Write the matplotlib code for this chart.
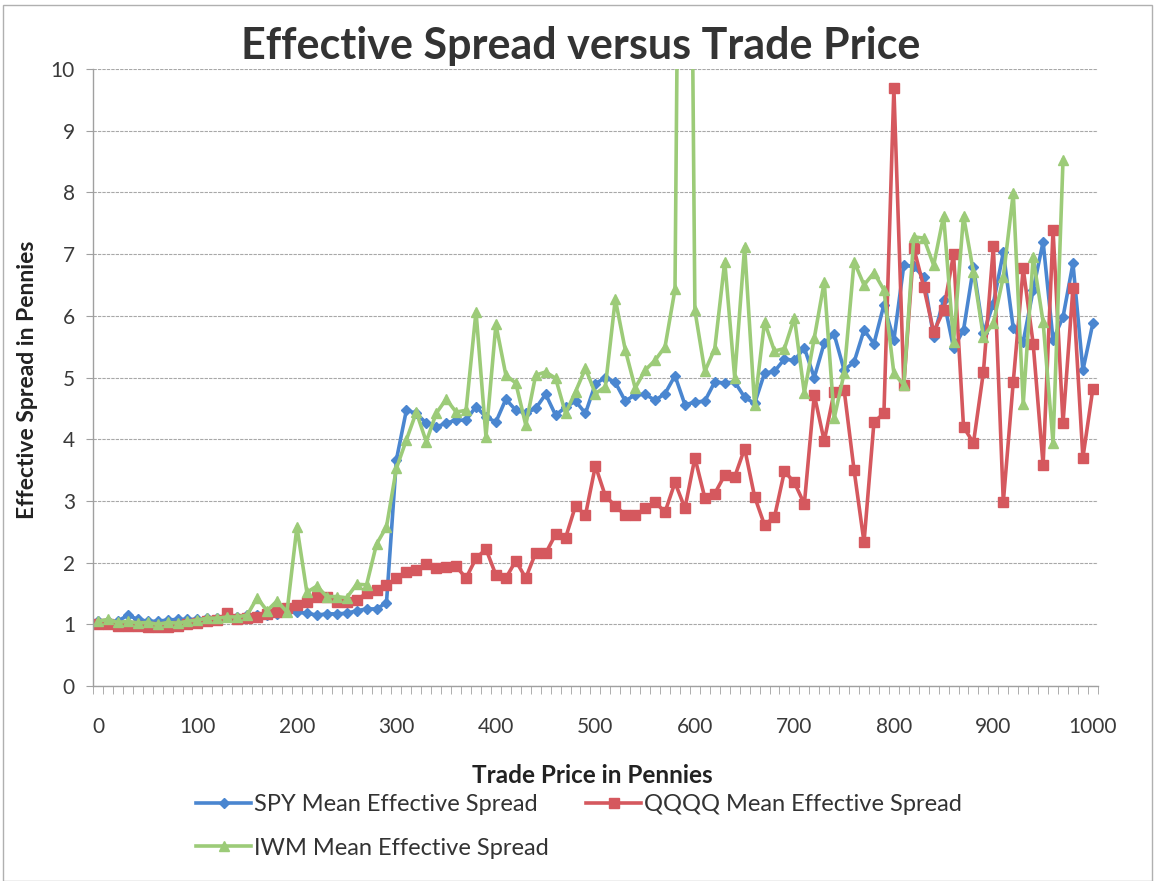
#!/usr/bin/env python3
import numpy as np
import matplotlib
matplotlib.use("Agg")
import matplotlib.pyplot as plt
from matplotlib.patches import Rectangle

# trade price in pennies, one point every 10
price = list(range(0, 1001, 10))

spy = [1.05, 1.05, 1.05, 1.15, 1.08, 1.05, 1.05, 1.07, 1.08, 1.08,
       1.08, 1.10, 1.10, 1.12, 1.12, 1.15, 1.15, 1.15, 1.17, 1.20,
       1.20, 1.18, 1.15, 1.17, 1.17, 1.18, 1.22, 1.25, 1.25, 1.35,
       3.67, 4.47, 4.42, 4.26, 4.20, 4.26, 4.31, 4.31, 4.53, 4.36,
       4.28, 4.65, 4.47, 4.42, 4.50, 4.73, 4.39, 4.52, 4.62, 4.42,
       4.90, 5.00, 4.92, 4.62, 4.72, 4.73, 4.63, 4.74, 5.03, 4.56,
       4.60, 4.62, 4.93, 4.91, 4.93, 4.68, 4.58, 5.07, 5.10, 5.30,
       5.28, 5.48, 5.00, 5.56, 5.70, 5.12, 5.25, 5.77, 5.55, 6.18,
       5.61, 6.82, 6.80, 6.63, 5.66, 6.26, 5.48, 5.77, 6.79, 5.72,
       6.20, 7.03, 5.80, 5.58, 6.42, 7.20, 5.61, 5.98, 6.85, 5.12,
       5.88]

qqqq = [1.00, 1.00, 0.98, 0.97, 0.98, 0.95, 0.95, 0.95, 0.97, 1.00,
        1.02, 1.05, 1.07, 1.18, 1.08, 1.10, 1.12, 1.17, 1.20, 1.27,
        1.32, 1.36, 1.45, 1.45, 1.36, 1.36, 1.40, 1.50, 1.56, 1.63,
        1.75, 1.85, 1.88, 1.97, 1.91, 1.93, 1.94, 1.75, 2.07, 2.22,
        1.80, 1.75, 2.03, 1.75, 2.16, 2.15, 2.46, 2.40, 2.92, 2.77,
        3.57, 3.08, 2.92, 2.77, 2.77, 2.88, 2.98, 2.82, 3.30, 2.88,
        3.70, 3.05, 3.12, 3.42, 3.39, 3.85, 3.07, 2.61, 2.74, 3.48,
        3.30, 2.95, 4.72, 3.97, 4.77, 4.80, 3.50, 2.33, 4.28, 4.42,
        9.69, 4.88, 7.10, 6.47, 5.74, 6.09, 7.00, 4.20, 3.94, 5.09,
        7.13, 2.98, 4.93, 6.77, 5.55, 3.58, 7.39, 4.26, 6.45, 3.70,
        4.82]

# no IWM values past 970
iwm = [1.05, 1.08, 1.03, 1.05, 1.02, 1.03, 1.00, 1.03, 1.02, 1.05,
       1.07, 1.10, 1.10, 1.12, 1.12, 1.15, 1.43, 1.22, 1.38, 1.20,
       2.58, 1.52, 1.62, 1.45, 1.45, 1.43, 1.65, 1.64, 2.30, 2.58,
       3.53, 3.99, 4.44, 3.96, 4.42, 4.65, 4.44, 4.47, 6.07, 4.04,
       5.86, 5.04, 4.91, 4.23, 5.04, 5.09, 4.99, 4.42, 4.77, 5.15,
       4.74, 4.85, 6.27, 5.45, 4.83, 5.12, 5.28, 5.50, 6.43, 25.0,
       6.09, 5.10, 5.47, 6.88, 5.00, 7.12, 4.55, 5.90, 5.43, 5.47,
       5.97, 4.75, 5.64, 6.55, 4.34, 5.07, 6.88, 6.50, 6.70, 6.42,
       5.07, 4.88, 7.28, 7.26, 6.82, 7.62, 5.58, 7.62, 6.71, 5.66,
       5.88, 6.63, 7.99, 4.57, 6.95, 5.90, 3.94, 8.52, np.nan, np.nan,
       np.nan]

BLUE = "#4A86D0"
RED = "#D5585E"
GREEN = "#9CCB78"

plt.rcParams['font.family'] = ['Lato', 'DejaVu Sans']

fig = plt.figure(figsize=(11.55, 8.81), dpi=100)
fig.patches.append(Rectangle((0.003, 0.0), 0.994, 0.994, transform=fig.transFigure,
                             fill=False, edgecolor="#b0b0b0", linewidth=1.0))
ax = fig.add_axes([0.0805, 0.2213, 0.870, 0.7003])

l1, = ax.plot(price, spy, color=BLUE, lw=2.6, marker="D", ms=4.8, mec=BLUE,
              label="SPY Mean Effective Spread")
l2, = ax.plot(price, qqqq, color=RED, lw=2.6, marker="s", ms=6.5, mec=RED,
              label="QQQQ Mean Effective Spread")
l3, = ax.plot(price, iwm, color=GREEN, lw=2.6, marker="^", ms=6.5, mec=GREEN,
              label="IWM Mean Effective Spread")

ax.set_xlim(-5, 1005)
ax.set_ylim(0, 10)
ax.set_yticks(range(0, 11))
ax.set_xticks(range(0, 1001, 100))
ax.set_xticks(np.arange(-5, 1006, 10), minor=True)
ax.grid(axis="y", color="#a8a8a8", lw=0.8, linestyle=(0, (3, 1)))
ax.set_axisbelow(True)

for s in ["top", "right"]:
    ax.spines[s].set_visible(False)
for s in ["left", "bottom"]:
    ax.spines[s].set_color("#a0a0a0")
    ax.spines[s].set_linewidth(1.0)

ax.tick_params(axis="x", which="major", length=0, pad=22, labelsize=15, labelcolor="#3a3a3a")
ax.tick_params(axis="x", which="minor", length=6, color="#a0a0a0", direction="out")
ax.tick_params(axis="y", length=5, color="#a0a0a0", pad=8, labelsize=15, labelcolor="#3a3a3a")

fig.text(0.503, 0.948, "Effective Spread versus Trade Price", ha="center", va="center",
         fontsize=31, fontweight="bold", color="#333333")
fig.text(0.5126, 0.1203, "Trade Price in Pennies", ha="center", va="center",
         fontsize=17.5, fontweight="bold", color="#222222")
fig.text(0.0242, 0.5687, "Effective Spread in Pennies", ha="center", va="center",
         rotation=90, fontsize=16.5, fontweight="bold", color="#222222")

fig.legend([l1, l3, l2], [l1.get_label(), l3.get_label(), l2.get_label()],
           loc="upper left", bbox_to_anchor=(0.1515, 0.1226), ncol=2, frameon=False,
           fontsize=17, handlelength=2.33, handletextpad=0.1, columnspacing=1.6,
           labelspacing=0.95, labelcolor="#333333")

fig.savefig("out.png", dpi=100)
plt.close(fig)
